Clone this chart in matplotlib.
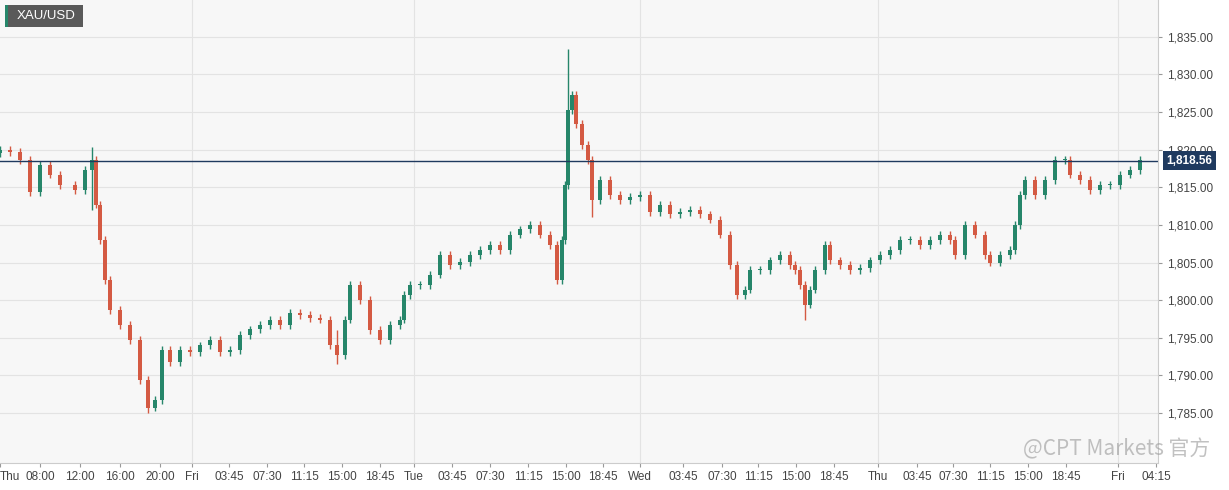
import matplotlib.pyplot as plt
from matplotlib.patches import Rectangle

plt.rcParams["font.family"] = ["Liberation Sans", "DejaVu Sans"]

# bar slots (chart time slots) and closing prices
slots = [0, 10, 20, 30, 40, 50, 60, 75, 85, 92, 96, 100, 105, 110, 120, 130, 140, 148, 155, 162,
         170, 180, 190, 200, 210, 220, 230, 240, 250, 260, 270, 280, 290, 300, 310, 320, 330, 337,
         345, 350, 360, 370, 380, 390, 400,
         404, 410, 420, 430, 440, 450, 460, 470, 480, 490, 500, 510, 520, 530, 540, 550, 557, 562,
         565, 568, 572, 576, 582, 588, 592, 600, 610, 620, 630, 640, 650, 660, 670, 680, 690, 700,
         710, 720, 730, 737, 745, 750, 760, 770, 780, 790, 795, 800, 805, 810, 815, 825, 830, 840,
         850, 860, 870, 880, 890, 900, 910, 920, 930, 940, 950, 955, 965, 975, 985, 990, 1000,
         1010, 1015, 1020, 1025, 1035, 1045, 1055, 1065, 1070, 1080, 1090, 1100, 1110, 1120, 1130,
         1140]
closes = [1820.0, 1819.7, 1818.6, 1814.4, 1818.0, 1816.7, 1815.3, 1814.6, 1817.3, 1818.6, 1812.7,
          1808.0, 1802.7, 1798.7, 1796.7, 1794.7, 1789.4, 1785.7, 1786.7, 1793.4, 1791.8, 1793.4,
          1793.1, 1794.0, 1794.7, 1793.1, 1793.4, 1795.4, 1796.1, 1796.7, 1797.4, 1796.7, 1798.3,
          1798.0, 1797.6, 1797.4, 1794.0, 1792.7, 1797.4, 1802.0, 1800.0, 1796.0, 1794.7, 1796.7,
          1797.4,
          1800.7, 1802.0, 1802.0, 1803.4, 1806.0, 1804.7, 1805.1, 1806.0, 1806.7, 1807.3, 1806.7,
          1808.7, 1809.4, 1810.0, 1808.7, 1807.3, 1802.7, 1808.0, 1815.3, 1825.3, 1827.3, 1823.4,
          1820.6, 1818.6, 1813.3, 1816.0, 1814.0, 1813.3, 1813.7, 1814.0, 1811.7, 1812.7, 1811.4,
          1811.7, 1812.0, 1811.4, 1810.7, 1808.7, 1804.7, 1800.7, 1801.4, 1804.0, 1804.0, 1805.3,
          1806.0, 1804.7, 1804.0, 1802.0, 1799.4, 1801.4, 1804.0, 1807.3, 1805.3, 1804.7, 1804.0,
          1804.3, 1805.3, 1806.0, 1806.7, 1808.0, 1808.0, 1807.3, 1808.0, 1808.7, 1808.0, 1806.0,
          1810.0, 1808.7, 1806.0, 1805.0, 1806.0, 1806.7, 1810.0, 1814.0, 1816.0, 1814.0, 1816.0,
          1818.6, 1818.6, 1816.7, 1816.0, 1814.6, 1815.3, 1815.3, 1816.7, 1817.3, 1818.6]
first_open = 1819.5
spike_slots = [92, 148, 337, 568, 592, 805]
spike_highs = [1820.3, 1787.0, 1796.0, 1833.4, 1817.0, 1802.0]
spike_lows = [1812.0, 1785.0, 1791.5, 1815.0, 1811.0, 1797.3]

last_price = 1818.56
yticks = [1785, 1790, 1795, 1800, 1805, 1810, 1815, 1820, 1825, 1830, 1835]
xtick_pos = [0, 40, 80, 120, 160, 192, 229, 267, 304, 342, 380, 414, 452, 490, 528, 566, 603,
             640, 683, 722, 758, 796, 834, 878, 917, 953, 990, 1028, 1066, 1118, 1156]
xtick_labels = ["Thu", "08:00", "12:00", "16:00", "20:00", "Fri", "03:45", "07:30", "11:15",
                "15:00", "18:45", "Tue", "03:45", "07:30", "11:15", "15:00", "18:45", "Wed",
                "03:45", "07:30", "11:15", "15:00", "18:45", "Thu", "03:45", "07:30", "11:15",
                "15:00", "18:45", "Fri", "04:15"]
day_lines = [192, 414, 640, 878, 1118]

UP = "#26866a"
DOWN = "#d45a43"

fig = plt.figure(figsize=(12.29, 4.9), dpi=100)
ax = fig.add_axes([0, 27 / 490, 1158 / 1229, 463 / 490])
ax.set_facecolor("#f7f7f7")

opens = [first_open] + closes[:-1]
for x, o, c in zip(slots, opens, closes):
    col = UP if c >= o else DOWN
    hi = max(o, c) + 0.5
    lo = min(o, c) - 0.5
    if x in spike_slots:
        k = spike_slots.index(x)
        hi = max(hi, spike_highs[k])
        lo = min(lo, spike_lows[k])
    ax.vlines(x, lo, hi, color=col, linewidth=1)
    ax.bar(x, max(abs(c - o), 0.15), bottom=min(o, c), width=3.5, color=col, linewidth=0)

ax.set_xlim(0, 1158)
ax.set_ylim(1778.35, 1839.9)
ax.set_yticks(yticks)
ax.set_yticklabels([f"{v:,.2f}" for v in yticks])
ax.yaxis.tick_right()
ax.set_xticks(xtick_pos)
ax.set_xticklabels(xtick_labels)
ax.tick_params(axis="both", colors="#999999", labelcolor="#444444", labelsize=8.5, length=3)
ax.tick_params(axis="x", pad=3)
ax.get_xticklabels()[0].set_horizontalalignment("left")

ax.grid(True, axis="y", color="#e3e3e3", linewidth=0.8)
for d in day_lines:
    ax.axvline(d, color="#e3e3e3", linewidth=0.8, zorder=0)
ax.set_axisbelow(True)
for s in ["top", "left"]:
    ax.spines[s].set_visible(False)
ax.spines["right"].set_color("#cccccc")
ax.spines["bottom"].set_color("#cccccc")

ax.axhline(last_price, color="#1f3a5f", linewidth=1)
ax.annotate(f"{last_price:,.2f}", xy=(1.0, last_price), xycoords=("axes fraction", "data"),
            xytext=(6, 0), textcoords="offset points", va="center", ha="left",
            color="white", fontsize=8.5, fontweight="bold",
            bbox=dict(boxstyle="square,pad=0.3", fc="#1f3a5f", ec="none"))

# symbol badge
fig.patches.append(Rectangle((5 / 1229, 1 - 27 / 490), 78 / 1229, 22 / 490,
                             transform=fig.transFigure, fc="#5a5a5a", ec="none"))
fig.patches.append(Rectangle((5 / 1229, 1 - 27 / 490), 3 / 1229, 22 / 490,
                             transform=fig.transFigure, fc=UP, ec="none"))
fig.text(17 / 1229, 1 - 16 / 490, "XAU/USD", color="white", fontsize=9.5, va="center", ha="left")

fig.text(0.985, 0.06, "@CPT Markets 官方", ha="right", va="bottom", fontsize=15,
         color="#999999", alpha=0.6, family=["Noto Sans CJK SC", "DejaVu Sans"])

fig.savefig("out.png", dpi=100)
